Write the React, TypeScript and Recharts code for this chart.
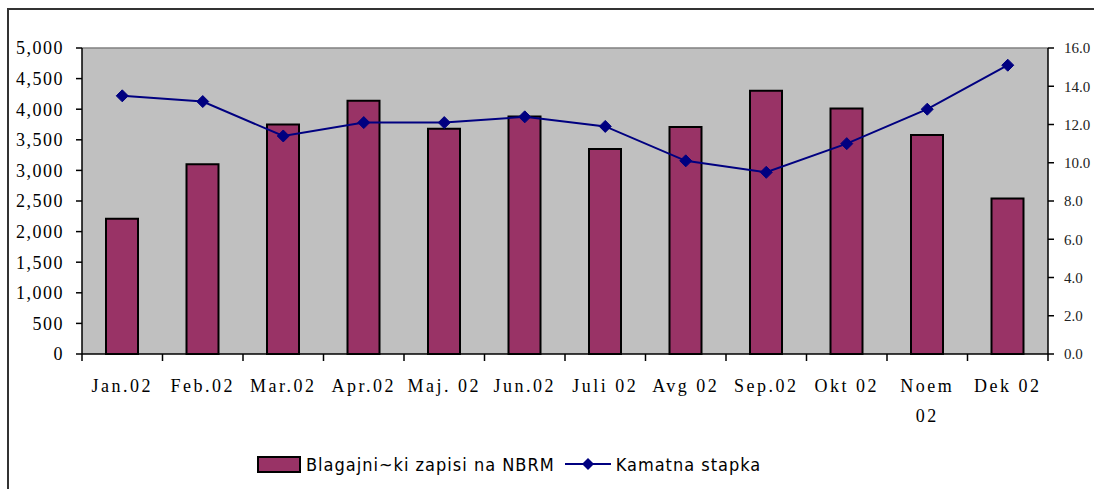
import {
  ComposedChart,
  Bar,
  Line,
  XAxis,
  YAxis,
  CartesianGrid,
  ReferenceLine,
  Legend,
} from "recharts";

const months = [
  "Jan.02",
  "Feb.02",
  "Mar.02",
  "Apr.02",
  "Maj. 02",
  "Jun.02",
  "Juli 02",
  "Avg 02",
  "Sep.02",
  "Okt 02",
  "Noem 02",
  "Dek 02",
];
const treasuryBills = [2210, 3100, 3750, 4140, 3680, 3880, 3350, 3710, 4300, 4010, 3580, 2540];
const interestRate = [13.5, 13.2, 11.4, 12.1, 12.1, 12.4, 11.9, 10.1, 9.5, 11.0, 12.8, 15.1];
const leftTicks = [0, 500, 1000, 1500, 2000, 2500, 3000, 3500, 4000, 4500, 5000];
const rightTicks = [0, 2, 4, 6, 8, 10, 12, 14, 16];

const data = months.map((m, i) => ({
  month: m,
  bills: treasuryBills[i],
  rate: interestRate[i],
}));

const W = 1094;
const H = 489;
const LEFT_AXIS_W = 82;
const RIGHT_AXIS_W = 46;
const STEP = (W - LEFT_AXIS_W - RIGHT_AXIS_W) / months.length;
// labels too wide for their band break onto a second line
const wrapped = new Set(["Noem 02"]);

const serif = "'Liberation Serif', 'Times New Roman', serif";

function MonthTick(props: any) {
  const { x, y, payload, index } = props;
  const label: string = payload.value;
  const lines = wrapped.has(label) ? label.split(" ") : [label];
  const last = index === months.length - 1;
  return (
    <g>
      <line x1={x - STEP / 2} x2={x - STEP / 2} y1={y} y2={y + 7} stroke="#000" strokeWidth={1.5} />
      {last && (
        <line x1={x + STEP / 2} x2={x + STEP / 2} y1={y} y2={y + 7} stroke="#000" strokeWidth={1.5} />
      )}
      {lines.map((t, i) => (
        <text
          key={i}
          x={x}
          y={y + 38 + i * 30}
          textAnchor="middle"
          fontFamily={serif}
          fontSize={18}
          letterSpacing={2.5}
          fill="#000"
        >
          {t}
        </text>
      ))}
    </g>
  );
}

function Diamond(props: any) {
  const { cx, cy } = props;
  if (cx == null || cy == null) return null;
  const r = 6;
  return (
    <polygon
      points={`${cx},${cy - r} ${cx + r},${cy} ${cx},${cy + r} ${cx - r},${cy}`}
      fill="#000080"
      stroke="#000080"
    />
  );
}

function ChartLegend(props: any) {
  const items = props.payload || [];
  return (
    <div
      style={{
        display: "flex",
        alignItems: "center",
        paddingLeft: 257,
        height: 20,
        marginBottom: 15,
        fontFamily: "'Liberation Sans Narrow', 'DejaVu Sans Condensed', sans-serif",
        fontSize: 18,
        letterSpacing: 1,
        color: "#000",
      }}
    >
      {items.map((it: any) =>
        it.type === "line" ? (
          <div key={it.value} style={{ display: "flex", alignItems: "center" }}>
            <svg width={48} height={16} style={{ marginLeft: 9 }}>
              <line x1={1} x2={47} y1={8} y2={8} stroke="#000080" strokeWidth={2} />
              <polygon points="24,2 30,8 24,14 18,8" fill="#000080" />
            </svg>
            <span style={{ marginLeft: 4 }}>{it.value}</span>
          </div>
        ) : (
          <div key={it.value} style={{ display: "flex", alignItems: "center" }}>
            <div
              style={{
                width: 40,
                height: 13,
                background: "#993366",
                border: "2px solid #000",
              }}
            />
            <span style={{ marginLeft: 5 }}>{it.value}</span>
          </div>
        )
      )}
    </div>
  );
}

export default function App() {
  return (
    <div style={{ position: "absolute", left: 0, top: 0, width: W, height: H, background: "#fff", overflow: "hidden" }}>
      <div
        style={{
          position: "absolute",
          left: 7,
          top: 8,
          width: W,
          height: H,
          borderTop: "2px solid #333",
          borderLeft: "2px solid #333",
        }}
      />
      <ComposedChart
        width={W}
        height={H}
        data={data}
        margin={{ top: 48, right: 0, bottom: 0, left: 0 }}
        style={{ position: "absolute", left: 0, top: 0 }}
      >
        <CartesianGrid fill="#C0C0C0" horizontal={false} vertical={false} yAxisId="left" />
        <ReferenceLine yAxisId="left" y={5000} stroke="#808080" strokeWidth={1.5} />
        <XAxis
          dataKey="month"
          height={100}
          tick={<MonthTick />}
          tickLine={false}
          tickSize={0}
          tickMargin={0}
          interval={0}
          axisLine={{ stroke: "#000", strokeWidth: 1.5 }}
        />
        <YAxis
          yAxisId="left"
          width={LEFT_AXIS_W}
          domain={[0, 5000]}
          ticks={leftTicks}
          interval={0}
          tickFormatter={(v: number) => v.toLocaleString("en-US")}
          tick={{ fontFamily: serif, fontSize: 18, fill: "#000", letterSpacing: 1.5 }}
          tickSize={6}
          tickMargin={12}
          tickLine={{ stroke: "#000", strokeWidth: 1.5 }}
          axisLine={{ stroke: "#000", strokeWidth: 1.5 }}
        />
        <YAxis
          yAxisId="right"
          orientation="right"
          width={RIGHT_AXIS_W}
          domain={[0, 16]}
          ticks={rightTicks}
          interval={0}
          tickFormatter={(v: number) => v.toFixed(1)}
          tick={{ fontFamily: serif, fontSize: 15, fill: "#222", textAnchor: "start" }}
          tickSize={6}
          tickMargin={10}
          tickLine={{ stroke: "#000", strokeWidth: 1.5 }}
          axisLine={{ stroke: "#000", strokeWidth: 1.5 }}
        />
        <Legend verticalAlign="bottom" align="left" content={<ChartLegend />} wrapperStyle={{ left: 0, width: W }} />
        <Bar
          yAxisId="left"
          dataKey="bills"
          name="Blagajni~ki zapisi na NBRM"
          fill="#993366"
          stroke="#000"
          strokeWidth={2}
          barSize={32}
          legendType="rect"
          isAnimationActive={false}
        />
        <Line
          yAxisId="right"
          dataKey="rate"
          name="Kamatna stapka"
          type="linear"
          stroke="#000080"
          strokeWidth={2}
          dot={<Diamond />}
          activeDot={false}
          legendType="line"
          isAnimationActive={false}
        />
      </ComposedChart>
    </div>
  );
}
